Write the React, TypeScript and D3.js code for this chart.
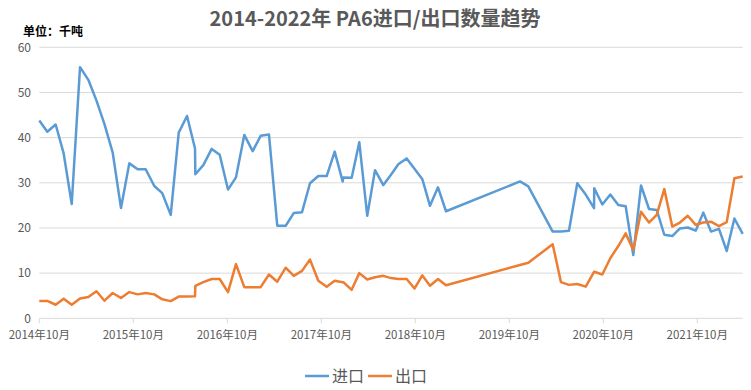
import React from "react";
import * as d3 from "d3";

// Month offsets from 2014-10 (x positions in data units)
const months: number[] = [
  0, 1.02, 2.09, 3.11, 4.14, 5.2, 6.26, 7.3, 8.32, 9.37,
  10.43, 11.49, 12.56, 13.58, 14.68, 15.7, 16.78, 17.8, 18.86, 19.88,
  19.92, 20.94, 22.01, 23.03, 24.09, 25.11, 26.17, 27.24, 28.26, 29.32,
  30.38, 31.46, 32.48, 33.54, 34.56, 35.62, 36.69, 37.71, 38.73, 38.81,
  39.88, 40.85, 41.87, 42.86, 43.92, 44.9, 45.83, 46.9, 47.9, 48.9,
  49.88, 50.9, 51.92, 61.37, 62.43, 65.54, 66.6, 67.62, 68.68, 69.76,
  70.82, 70.85, 71.88, 72.9, 73.92, 74.86, 75.83, 76.82, 77.84, 78.82,
  79.79, 80.81, 81.79, 82.78, 83.8, 84.77, 85.75, 86.77, 87.76, 88.74, 89.8,
];

const importValues: number[] = [
  43.8, 41.3, 42.9, 36.5, 25.3, 55.6, 52.8, 48.2, 43.0, 36.7,
  24.4, 34.3, 33.0, 33.0, 29.3, 27.7, 22.9, 41.1, 44.8, 37.6,
  31.9, 33.9, 37.5, 36.2, 28.5, 31.2, 40.6, 37.0, 40.4, 40.7,
  20.5, 20.5, 23.3, 23.5, 29.9, 31.5, 31.5, 36.9, 30.3, 31.2,
  31.1, 39.0, 22.7, 32.8, 29.5, 31.8, 34.1, 35.4, 33.1, 30.8,
  24.9, 29.0, 23.7, 30.3, 29.2, 19.2, 19.2, 19.4, 29.9, 27.4,
  24.4, 28.8, 25.2, 27.4, 25.1, 24.8, 14.0, 29.4, 24.2, 24.0,
  18.5, 18.2, 19.9, 20.1, 19.4, 23.4, 19.2, 19.8, 14.9, 22.1, 18.7,
];

const exportValues: number[] = [
  3.84, 3.84, 3.0, 4.35, 3.0, 4.4, 4.7, 6.0, 3.9, 5.6,
  4.5, 5.8, 5.3, 5.6, 5.3, 4.2, 3.8, 4.8, 4.8, 4.9,
  7.2, 8.0, 8.7, 8.7, 5.8, 12.0, 6.9, 6.9, 6.9, 9.7,
  8.1, 11.2, 9.4, 10.5, 13.0, 8.3, 7.0, 8.3, 8.0, 8.0,
  6.3, 10.0, 8.6, 9.1, 9.4, 8.9, 8.7, 8.7, 6.6, 9.5,
  7.2, 8.7, 7.3, 11.8, 12.3, 16.4, 8.0, 7.4, 7.6, 7.0,
  10.3, 10.3, 9.7, 13.3, 16.0, 18.8, 15.1, 23.6, 21.2, 22.9,
  28.6, 20.3, 21.2, 22.7, 20.7, 21.2, 21.4, 20.4, 21.3, 31.0, 31.4,
];

const xTickMonths: number[] = [0, 12, 24, 36, 48, 60, 72, 84];
const xTickLabels: string[] = [
  "2014年10月", "2015年10月", "2016年10月", "2017年10月",
  "2018年10月", "2019年10月", "2020年10月", "2021年10月",
];
const yTicks: number[] = [0, 10, 20, 30, 40, 50, 60];

const title = "2014-2022年 PA6进口/出口数量趋势";
const unitLabel = "单位：千吨";
const seriesNames = ["进口", "出口"];
const colors = ["#5B9BD5", "#ED7D31"];

const W = 751;
const H = 390;
const FONT = "'Noto Sans CJK SC', 'Noto Sans', sans-serif";

export default function App() {
  const x = d3.scaleLinear().domain([0, 89.8]).range([39.3, 742.7]);
  const y = d3.scaleLinear().domain([0, 60]).range([318.3, 47.3]);

  const line = d3
    .line<[number, number]>()
    .x((d) => x(d[0]))
    .y((d) => y(d[1]));

  const series = [importValues, exportValues].map((vals) =>
    vals.map((v, i) => [months[i], v] as [number, number])
  );

  const [x0, x1] = x.range();

  return (
    <svg
      width={W}
      height={H}
      style={{ position: "absolute", left: 0, top: 0, background: "#fff" }}
      fontFamily={FONT}
    >
      <text
        x={375}
        y={26}
        textAnchor="middle"
        fontSize={20}
        fontWeight="bold"
        fill="#595959"
      >
        {title}
      </text>
      <text x={23} y={36} fontSize={12} fontWeight="bold" fill="#000">
        {unitLabel}
      </text>

      {yTicks.map((t) => (
        <g key={t}>
          <line
            x1={x0}
            x2={x1}
            y1={y(t)}
            y2={y(t)}
            stroke="#d9d9d9"
            strokeWidth={1}
          />
          <text
            x={31}
            y={y(t)}
            dy="0.35em"
            textAnchor="end"
            fontSize={12}
            fill="#595959"
          >
            {t}
          </text>
        </g>
      ))}

      {xTickMonths.map((m, i) => (
        <g key={m}>
          <line
            x1={x(m)}
            x2={x(m)}
            y1={y(0)}
            y2={y(0) + 5}
            stroke="#d9d9d9"
            strokeWidth={1}
          />
          <text
            x={x(m)}
            y={338.5}
            textAnchor="middle"
            fontSize={11.5}
            fill="#595959"
          >
            {xTickLabels[i]}
          </text>
        </g>
      ))}

      {series.map((s, i) => (
        <path
          key={i}
          d={line(s) || ""}
          fill="none"
          stroke={colors[i]}
          strokeWidth={2.5}
          strokeLinejoin="round"
        />
      ))}

      <g>
        {seriesNames.map((name, i) => {
          const lx = 305 + i * 63;
          return (
            <g key={name}>
              <line
                x1={lx}
                x2={lx + 24}
                y1={376}
                y2={376}
                stroke={colors[i]}
                strokeWidth={2.5}
              />
              <text x={lx + 27} y={382} fontSize={16} fill="#595959">
                {name}
              </text>
            </g>
          );
        })}
      </g>
    </svg>
  );
}
